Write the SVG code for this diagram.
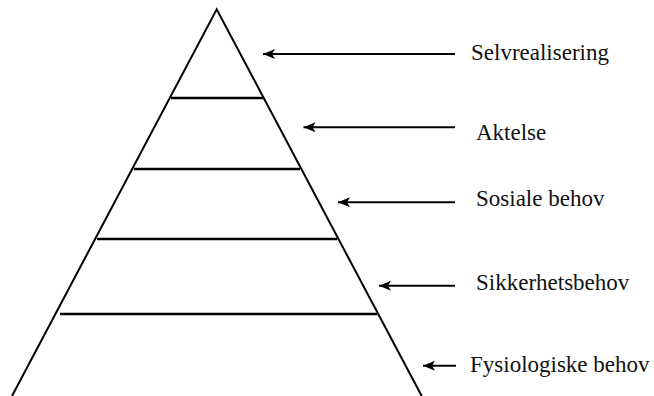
<svg xmlns="http://www.w3.org/2000/svg" width="654" height="396" viewBox="0 0 654 396">
  <style>
    .edge { stroke: #000; stroke-width: 2; fill: none; }
    .tier { stroke: #000; stroke-width: 2.5; fill: none; }
    .arrow { stroke: #000; stroke-width: 2; fill: none; marker-end: url(#head); }
    .label { font-family: "Liberation Serif", "Times New Roman", serif; font-size: 23px; fill: #111; }
  </style>
  <defs>
    <marker id="head" markerUnits="userSpaceOnUse" markerWidth="14" markerHeight="12" viewBox="-13 -6 14 12" refX="0" refY="0" orient="auto">
      <path d="M0,0 L-12,-5 L-9,0 L-12,5 Z" fill="#000"/>
    </marker>
  </defs>
  <rect width="654" height="396" fill="#fff"/>

  <!-- pyramid outline and tier dividers -->
  <g id="pyramid">
    <polyline class="edge" points="12,396 216.7,9.3 421.7,396"/>
    <line class="tier" x1="171" y1="98" x2="263" y2="98"/>
    <line class="tier" x1="134" y1="169" x2="300" y2="169"/>
    <line class="tier" x1="97" y1="239" x2="337" y2="239"/>
    <line class="tier" x1="60" y1="314" x2="377" y2="314"/>
  </g>

  <!-- pointers from labels to the levels -->
  <g id="connectors">
    <line class="arrow" x1="455" y1="54" x2="263" y2="54"/>
    <line class="arrow" x1="455" y1="127.3" x2="303.5" y2="127.3"/>
    <line class="arrow" x1="455" y1="202.3" x2="338" y2="202.3"/>
    <line class="arrow" x1="455" y1="285.7" x2="379" y2="285.7"/>
    <line class="arrow" x1="456" y1="365.7" x2="423" y2="365.7"/>
  </g>

  <g id="selvrealisering"><text class="label" x="471" y="60">Selvrealisering</text></g>
  <g id="aktelse"><text class="label" x="476" y="140">Aktelse</text></g>
  <g id="sosiale-behov"><text class="label" x="476" y="206">Sosiale behov</text></g>
  <g id="sikkerhetsbehov"><text class="label" x="476" y="290">Sikkerhetsbehov</text></g>
  <g id="fysiologiske-behov"><text class="label" x="470" y="372">Fysiologiske behov</text></g>
</svg>
